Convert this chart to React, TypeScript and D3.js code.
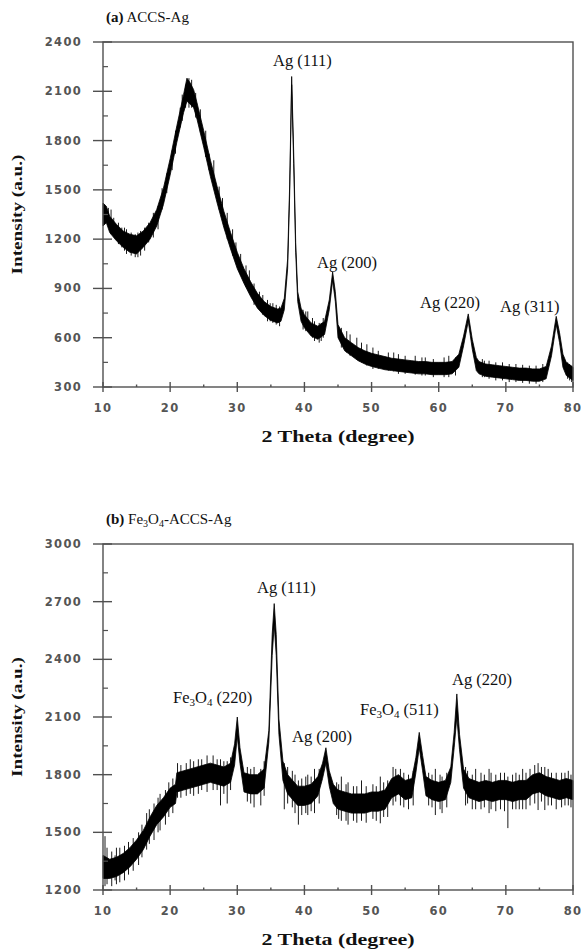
import React from 'react';
import * as d3 from 'd3';

// x positions (2 theta) shared by the tick labels of both panels
const thetaTicks = [10, 20, 30, 40, 50, 60, 70, 80];
const yTicksA = [300, 600, 900, 1200, 1500, 1800, 2100, 2400];
const yTicksB = [1200, 1500, 1800, 2100, 2400, 2700, 3000];

// (a) ACCS-Ag : noise band, low / high edge
const thetaA = [10, 10.5, 11, 12, 13, 14, 15, 16, 17, 18, 19, 20, 21, 22, 22.5, 23, 23.5, 24, 25, 26, 27, 28, 29, 30,
	31, 32, 33, 34, 35, 36, 36.5, 37, 37.5, 37.8, 38.1, 38.4, 38.7, 39, 39.5, 40, 41, 42, 43, 43.7, 44.2, 44.6, 45, 46,
	47, 48, 49, 50, 51, 52, 53, 54, 55, 56, 57, 58, 59, 60, 61, 62, 63, 63.7, 64.4, 65, 65.6, 66, 67, 68, 69, 70, 71,
	72, 73, 74, 75, 76, 76.8, 77.5, 78, 78.5, 79, 80];
const lowA = [1280, 1300, 1240, 1190, 1150, 1120, 1110, 1150, 1200, 1280, 1410, 1590, 1790, 1970, 2040, 2020, 2000,
	1930, 1760, 1580, 1420, 1270, 1140, 1020, 930, 850, 780, 735, 705, 690, 700, 770, 1020, 1470, 2140, 1660, 1120, 820,
	700, 660, 610, 590, 620, 770, 950, 820, 600, 520, 490, 460, 440, 425, 415, 405, 400, 395, 390, 385, 380, 380, 375,
	375, 375, 380, 420, 550, 700, 530, 400, 380, 365, 360, 355, 350, 345, 340, 340, 335, 335, 350, 490, 680, 570, 420,
	370, 340];
const highA = [1420, 1400, 1340, 1290, 1250, 1230, 1220, 1250, 1300, 1380, 1510, 1690, 1890, 2080, 2180, 2150, 2110,
	2030, 1860, 1680, 1520, 1370, 1240, 1120, 1020, 940, 870, 820, 790, 775, 780, 840, 1080, 1530, 2190, 1730, 1180, 880,
	780, 740, 690, 670, 700, 830, 1000, 880, 680, 600, 570, 540, 520, 505, 495, 485, 475, 470, 465, 460, 455, 455, 450,
	450, 450, 455, 500, 610, 745, 590, 480, 455, 440, 435, 430, 425, 420, 415, 415, 410, 410, 425, 550, 730, 630, 500,
	450, 420];
// single noise spikes: [2 theta, low, high]
const spikesA: [number, number, number][] = [
	[10.2, 1300, 1410], [10.8, 1280, 1390], [11.2, 1230, 1380], [11.6, 1220, 1330], [12.3, 1170, 1300],
	[12.8, 1150, 1270], [13.2, 1130, 1270], [13.5, 1110, 1260], [14.2, 1100, 1240], [14.8, 1090, 1230],
	[15.2, 1090, 1240], [15.6, 1100, 1250], [16.2, 1130, 1270], [16.8, 1180, 1300], [17.5, 1210, 1360],
	[18.2, 1260, 1400], [18.8, 1380, 1510], [19.5, 1480, 1600], [20.3, 1620, 1740], [20.8, 1720, 1860],
	[21.5, 1880, 2000], [21.8, 1920, 2080], [22.3, 2000, 2140], [22.8, 2000, 2180], [23.2, 2000, 2170],
	[23.8, 1940, 2090], [24.5, 1850, 1990], [25.3, 1700, 1860], [25.8, 1620, 1720], [26.5, 1520, 1680],
	[27.3, 1380, 1520], [27.8, 1320, 1450], [28.5, 1200, 1360], [29.3, 1100, 1260], [29.8, 1060, 1180],
	[30.5, 980, 1110], [31.3, 910, 1040], [31.8, 880, 1010], [32.5, 800, 930], [33.3, 770, 880], [33.8, 740, 860],
	[34.5, 700, 830], [34.9, 700, 810], [35.3, 690, 810], [35.8, 680, 800], [36.3, 670, 790], [39.8, 650, 770],
	[40.2, 640, 760], [40.5, 640, 760], [41.2, 600, 720], [41.5, 580, 700], [42.2, 570, 690], [42.5, 580, 690],
	[42.8, 600, 720], [45.5, 540, 660], [46.3, 510, 640], [46.8, 490, 620], [47.8, 470, 600], [48.5, 450, 570],
	[49.3, 430, 560], [50.2, 410, 540], [51, 410, 520], [52.5, 400, 510], [53.3, 395, 510], [54, 380, 500],
	[55, 380, 490], [56.5, 375, 490], [57.5, 370, 480], [58, 370, 480], [59.2, 360, 470], [60.8, 360, 480],
	[61.5, 360, 490], [62.5, 370, 480], [66.5, 360, 470], [66.8, 360, 460], [67.5, 350, 460], [68.5, 340, 450],
	[69.5, 340, 450], [70.5, 330, 440], [71.5, 330, 440], [72.5, 325, 435], [73.5, 320, 430], [74.5, 320, 430],
	[75.5, 330, 440], [79.2, 350, 450], [79.5, 340, 440], [79.8, 330, 430]
];

// (b) Fe3O4-ACCS-Ag
const thetaB = [10, 11, 12, 13, 14, 15, 16, 17, 18, 19, 20, 20.8, 21, 22, 23, 24, 25, 26, 27, 28, 29, 29.6, 30, 30.4,
	31, 32, 33, 34, 34.7, 35.2, 35.5, 35.8, 36.2, 36.8, 37.5, 38, 39, 40, 41, 42, 42.7, 43.2, 43.7, 44.3, 45, 46, 47,
	48, 49, 50, 51, 52, 53, 54, 55, 56, 56.6, 57.1, 57.6, 58.1, 59, 60, 61, 61.8, 62.3, 62.7, 63.1, 63.7, 64.5, 66, 67,
	68, 69, 70, 71, 72, 73, 74, 75, 76, 77, 78, 79, 80];
const lowB = [1260, 1260, 1270, 1290, 1320, 1360, 1410, 1480, 1540, 1580, 1630, 1650, 1710, 1720, 1730, 1740, 1750,
	1760, 1750, 1740, 1760, 1850, 2000, 1860, 1710, 1700, 1700, 1730, 1970, 2420, 2580, 2420, 2010, 1770, 1700, 1680,
	1640, 1640, 1650, 1690, 1780, 1860, 1740, 1650, 1620, 1610, 1600, 1600, 1600, 1610, 1610, 1620, 1680, 1700, 1670,
	1680, 1810, 1940, 1820, 1690, 1670, 1660, 1670, 1760, 1940, 2100, 1930, 1730, 1680, 1660, 1670, 1660, 1670, 1670,
	1660, 1670, 1670, 1700, 1710, 1690, 1680, 1670, 1680, 1670];
const highB = [1380, 1360, 1370, 1390, 1420, 1460, 1510, 1580, 1640, 1680, 1730, 1750, 1810, 1820, 1830, 1840, 1850,
	1860, 1850, 1840, 1860, 1960, 2100, 1940, 1810, 1800, 1800, 1830, 2030, 2530, 2690, 2530, 2090, 1870, 1800, 1780,
	1740, 1740, 1750, 1790, 1860, 1940, 1820, 1750, 1720, 1710, 1700, 1700, 1700, 1710, 1710, 1720, 1780, 1800, 1770,
	1780, 1890, 2020, 1900, 1790, 1770, 1760, 1770, 1840, 2020, 2220, 2010, 1830, 1780, 1760, 1770, 1760, 1770, 1770,
	1760, 1770, 1770, 1800, 1810, 1790, 1780, 1770, 1780, 1770];
const spikesB: [number, number, number][] = [
	[10.3, 1220, 1480], [10.6, 1230, 1420], [11.3, 1220, 1400], [11.8, 1250, 1380], [12, 1230, 1420],
	[12.5, 1240, 1420], [13.2, 1250, 1430], [13.8, 1280, 1450], [14.5, 1300, 1470], [15.3, 1330, 1500],
	[15.8, 1370, 1540], [16.5, 1410, 1600], [16.9, 1440, 1620], [17.6, 1460, 1650], [18.2, 1500, 1680],
	[18.5, 1510, 1700], [19.3, 1540, 1720], [19.8, 1580, 1760], [20.4, 1600, 1780], [21.1, 1680, 1860],
	[21.6, 1680, 1850], [22.4, 1690, 1860], [23, 1700, 1880], [23.5, 1690, 1870], [24.2, 1700, 1880],
	[24.7, 1720, 1880], [25.5, 1710, 1900], [26.4, 1720, 1900], [27, 1720, 1880], [27.5, 1640, 1880],
	[28, 1700, 1870], [28.5, 1650, 1870], [29, 1720, 1890], [31.5, 1660, 1840], [32, 1650, 1830],
	[32.5, 1630, 1840], [33.5, 1640, 1830], [34, 1690, 1870], [37, 1620, 1860], [37.5, 1650, 1840],
	[38.2, 1630, 1820], [38.6, 1600, 1800], [39.1, 1540, 1770], [39.6, 1590, 1780], [40.2, 1600, 1790],
	[40.5, 1590, 1800], [41, 1610, 1790], [41.5, 1600, 1830], [42.2, 1650, 1830], [44.8, 1590, 1760],
	[45.1, 1570, 1750], [45.5, 1560, 1790], [46.2, 1560, 1750], [46.5, 1540, 1760], [47.3, 1560, 1740],
	[47.8, 1550, 1740], [48.5, 1560, 1770], [49.2, 1550, 1740], [50.2, 1570, 1750], [50.7, 1560, 1740],
	[51.3, 1547, 1790], [51.8, 1580, 1760], [52.4, 1580, 1770], [53.2, 1640, 1840], [53.6, 1660, 1830],
	[54.3, 1640, 1830], [54.8, 1630, 1810], [55.5, 1620, 1800], [56.2, 1640, 1820], [58.5, 1640, 1810],
	[59, 1630, 1800], [59.5, 1590, 1830], [60.2, 1620, 1800], [60.5, 1600, 1790], [61.2, 1630, 1810],
	[64, 1640, 1840], [64.3, 1650, 1820], [65, 1620, 1800], [65.5, 1620, 1830], [66.3, 1620, 1810],
	[66.8, 1630, 1800], [67.5, 1600, 1830], [67.8, 1620, 1810], [68.5, 1610, 1800], [69.2, 1620, 1810],
	[69.8, 1610, 1810], [70.3, 1522, 1790], [71, 1620, 1800], [71.5, 1620, 1810], [72, 1620, 1800],
	[72.5, 1620, 1830], [73, 1620, 1810], [73.6, 1640, 1830], [74.3, 1650, 1850], [74.8, 1616, 1860],
	[75.3, 1660, 1840], [75.8, 1616, 1840], [76.3, 1640, 1830], [76.8, 1640, 1810], [77.5, 1620, 1810],
	[78.3, 1630, 1810], [78.8, 1640, 1810], [79.3, 1640, 1820], [79.7, 1630, 1800]
];

// peak labels, text start and baseline in px
const labelsA = [
	{ text: 'Ag (111)', x: 273, y: 66 },
	{ text: 'Ag (200)', x: 317, y: 268 },
	{ text: 'Ag (220)', x: 420, y: 308 },
	{ text: 'Ag (311)', x: 500, y: 312 }
];
const labelsB = [
	{ text: 'Ag (111)', x: 257, y: 593 },
	{ text: 'Fe3O4 (220)', x: 173, y: 703 },
	{ text: 'Ag (200)', x: 292, y: 742 },
	{ text: 'Fe3O4 (511)', x: 360, y: 715 },
	{ text: 'Ag (220)', x: 452, y: 685 }
];

const axisColor = '#505050';
const tickFont = 'DejaVu Sans, sans-serif';
const serif = 'Liberation Serif, Times New Roman, serif';

const PeakLabel = ({ text, x, y }: { text: string; x: number; y: number }) => {
	if (text.startsWith('Fe3O4')) {
		const rest = text.slice(5);
		return (
			<text x={x} y={y} fontFamily={serif} fontSize={16.5} fill="#111">
				Fe<tspan fontSize={11} dy={3}>3</tspan>
				<tspan dy={-3}>O</tspan>
				<tspan fontSize={11} dy={3}>4</tspan>
				<tspan dy={-3}>{rest}</tspan>
			</text>
		);
	}
	return (
		<text x={x} y={y} fontFamily={serif} fontSize={16.5} fill="#111">
			{text}
		</text>
	);
};

type PanelProps = {
	top: number;
	bottom: number;
	yTicks: number[];
	theta: number[];
	low: number[];
	high: number[];
	spikes: [number, number, number][];
	labels: { text: string; x: number; y: number }[];
	title: React.ReactNode;
};

const left = 103;
const right = 573;

const Panel = ({ top, bottom, yTicks, theta, low, high, spikes, labels, title }: PanelProps) => {
	const x = d3.scaleLinear().domain([10, 80]).range([left, right]);
	const y = d3.scaleLinear().domain([yTicks[0], yTicks[yTicks.length - 1]]).range([bottom, top]);
	const idx = d3.range(theta.length);
	const band = d3
		.area<number>()
		.x((i) => x(theta[i]))
		.y0((i) => y(low[i]))
		.y1((i) => y(high[i]))(idx);
	const step = yTicks[1] - yTicks[0];
	const minorY = yTicks.slice(0, -1).map((t) => t + step / 2);
	const minorX = thetaTicks.slice(0, -1).map((t) => t + 5);
	const midY = (top + bottom) / 2;

	return (
		<g>
			{/* data */}
			<path d={band || ''} fill="#000" stroke="#000" strokeWidth={0.8} />
			{spikes.map(([t, lo, hi], i) => (
				<line key={i} x1={x(t)} x2={x(t)} y1={y(lo)} y2={y(hi)} stroke="#000" strokeWidth={0.9} />
			))}

			{/* frame */}
			<rect x={left} y={top} width={right - left} height={bottom - top} fill="none" stroke={axisColor} strokeWidth={1.4} />

			{/* y axis */}
			{yTicks.map((t) => (
				<g key={t}>
					<line x1={left - 10} x2={left + 9} y1={y(t)} y2={y(t)} stroke={axisColor} strokeWidth={1.4} />
					<text
						x={82}
						y={y(t)}
						dy="0.35em"
						textAnchor="end"
						fontFamily={tickFont}
						fontWeight="bold"
						fontSize={11.5}
						letterSpacing={1.3}
						fill="#555"
					>
						{t}
					</text>
				</g>
			))}
			{minorY.map((t) => (
				<line key={t} x1={left} x2={left + 5} y1={y(t)} y2={y(t)} stroke={axisColor} strokeWidth={1.2} />
			))}

			{/* x axis */}
			{thetaTicks.map((t) => (
				<g key={t}>
					<line x1={x(t)} x2={x(t)} y1={bottom - 5} y2={bottom + 5} stroke={axisColor} strokeWidth={1.4} />
					<text
						x={x(t)}
						y={bottom + 25}
						textAnchor="middle"
						fontFamily={tickFont}
						fontWeight="bold"
						fontSize={11.5}
						letterSpacing={1.3}
						fill="#555"
					>
						{t}
					</text>
				</g>
			))}
			{minorX.map((t) => (
				<line key={t} x1={x(t)} x2={x(t)} y1={bottom - 2.5} y2={bottom} stroke={axisColor} strokeWidth={1.4} />
			))}

			{labels.map((l) => (
				<PeakLabel key={l.text + l.x} {...l} />
			))}

			<text
				transform={`translate(22,${midY}) rotate(-90)`}
				textAnchor="middle"
				fontFamily={serif}
				fontWeight="bold"
				fontSize={15}
				textLength={120}
				lengthAdjust="spacingAndGlyphs"
				fill="#111"
			>
				Intensity (a.u.)
			</text>
			<text
				x={(left + right) / 2}
				y={bottom + 55}
				textAnchor="middle"
				fontFamily={serif}
				fontWeight="bold"
				fontSize={16}
				textLength={153}
				lengthAdjust="spacingAndGlyphs"
				fill="#111"
			>
				2 Theta (degree)
			</text>
			<text x={106} y={top - 20} fontFamily={serif} fontSize={15} fill="#111">
				{title}
			</text>
		</g>
	);
};

export default function App() {
	return (
		<svg
			width={581}
			height={951}
			style={{ position: 'absolute', left: 0, top: 0, background: '#fff' }}
		>
			<Panel
				top={42}
				bottom={387}
				yTicks={yTicksA}
				theta={thetaA}
				low={lowA}
				high={highA}
				spikes={spikesA}
				labels={labelsA}
				title={
					<>
						<tspan fontWeight="bold">(a)</tspan> ACCS-Ag
					</>
				}
			/>
			<Panel
				top={544}
				bottom={890}
				yTicks={yTicksB}
				theta={thetaB}
				low={lowB}
				high={highB}
				spikes={spikesB}
				labels={labelsB}
				title={
					<>
						<tspan fontWeight="bold">(b)</tspan> Fe<tspan fontSize={10} dy={3}>3</tspan>
						<tspan dy={-3}>O</tspan>
						<tspan fontSize={10} dy={3}>4</tspan>
						<tspan dy={-3}>-ACCS-Ag</tspan>
					</>
				}
			/>
		</svg>
	);
}
